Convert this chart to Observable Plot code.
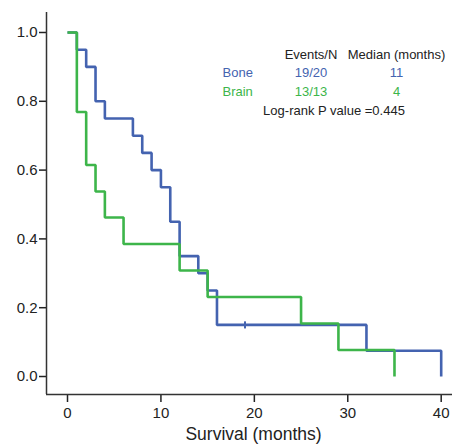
<!DOCTYPE html>
<html><head><meta charset="utf-8">
<script src="https://cdn.jsdelivr.net/npm/d3@7"></script>
<script src="https://cdn.jsdelivr.net/npm/@observablehq/plot@0.6"></script>
<style>html,body{margin:0;padding:0;background:#fff}</style>
</head><body><div id="chart"></div>
<script>
// Kaplan–Meier step data
const boneTime = [0, 1, 2, 3, 4, 7, 8, 9, 10, 11, 12, 14, 15, 16, 32, 40];
const boneSurv = [1, 0.95, 0.90, 0.80, 0.75, 0.70, 0.65, 0.60, 0.55, 0.45, 0.35, 0.30, 0.25, 0.15, 0.075, 0];
const boneCensorTime = [19];
const boneCensorSurv = [0.15];
const brainTime = [0, 1, 2, 3, 4, 6, 12, 15, 25, 29, 35];
const brainSurv = [1, 0.769, 0.615, 0.538, 0.462, 0.385, 0.308, 0.231, 0.154, 0.077, 0];

const xTicks = [0, 10, 20, 30, 40];
const yTicks = [0, 0.2, 0.4, 0.6, 0.8, 1.0];
const xLabel = "Survival (months)";

const groups = ["Bone", "Brain"];
const eventsN = ["19/20", "13/13"];
const medians = ["11", "4"];
const headers = ["Events/N", "Median (months)"];
const pText = "Log-rank P value =0.445";

const colors = {Bone: "#4463b0", Brain: "#3db54a"};
const font = "'Liberation Sans', Arial, Helvetica, sans-serif";

const toRows = (t, s, g) => t.map((x, i) => ({t: x, s: s[i], g}));
const bone = toRows(boneTime, boneSurv, "Bone");
const brain = toRows(brainTime, brainSurv, "Brain");
const censors = toRows(boneCensorTime, boneCensorSurv, "Bone");

const tickSymbol = {draw(ctx, size) { const h = Math.sqrt(size) / 2; ctx.moveTo(0, -h); ctx.lineTo(0, h); }};

const xDomain = [-2.248, 41.21];
const yDomain = [-0.0523, 1.0581];

// legend layout (offsets from frame top-left, vertical = text middle)
const colX = [264.5, 350];   // centers for Events/N and Median columns
const nameX = 176;           // left of group names
const headerY = 42.8;
const rowY = [60.5, 79.5];
const pY = 98.8, pX = 287.5;

const T = {frameAnchor: "top-left", text: d => d, fontSize: 13, lineAnchor: "middle"};
const legendMarks = [];
headers.forEach((h, i) => legendMarks.push(Plot.text([h], {...T, dx: colX[i], dy: headerY, fill: "#222", textAnchor: "middle"})));
groups.forEach((g, i) => {
  legendMarks.push(Plot.text([g], {...T, dx: nameX, dy: rowY[i], fill: colors[g], textAnchor: "start"}));
  legendMarks.push(Plot.text([eventsN[i]], {...T, dx: colX[0], dy: rowY[i], fill: colors[g], textAnchor: "middle"}));
  legendMarks.push(Plot.text([medians[i]], {...T, dx: colX[1], dy: rowY[i], fill: colors[g], textAnchor: "middle"}));
});
legendMarks.push(Plot.text([pText], {...T, dx: pX, dy: pY, fill: "#222", textAnchor: "middle"}));

const chart = Plot.plot({
  width: 452,
  height: 444,
  marginLeft: 46,
  marginRight: 0,
  marginTop: 12,
  marginBottom: 50,
  style: {fontFamily: font, fontSize: "15px", background: "#fff", color: "#222"},
  x: {domain: xDomain},
  y: {domain: yDomain},
  marks: [
    Plot.axisX({ticks: xTicks, tickSize: 8, tickPadding: 5, label: null, tickFormat: d => String(d), fontSize: 15, strokeWidth: 1.5}),
    Plot.axisY({ticks: yTicks, tickSize: 7, tickPadding: 2, label: null, tickFormat: d3.format(".1f"), fontSize: 15, strokeWidth: 1.5}),
    Plot.ruleY([yDomain[0]], {stroke: "#333", strokeWidth: 1.5}),
    Plot.ruleX([xDomain[0]], {stroke: "#333", strokeWidth: 1.5}),
    Plot.line(bone, {x: "t", y: "s", curve: "step-after", stroke: colors.Bone, strokeWidth: 2.6, strokeLinejoin: "miter", strokeLinecap: "butt"}),
    Plot.dot(censors, {x: "t", y: "s", symbol: tickSymbol, r: 4, stroke: colors.Bone, strokeWidth: 2, fill: "none"}),
    Plot.line(brain, {x: "t", y: "s", curve: "step-after", stroke: colors.Brain, strokeWidth: 2.6, strokeLinejoin: "miter", strokeLinecap: "butt"}),
    Plot.text([xLabel], {frameAnchor: "bottom", lineAnchor: "middle", dx: 4, dy: 39.5, text: d => d, fontSize: 17.5, fill: "#222"}),
    ...legendMarks
  ]
});
document.getElementById("chart").appendChild(chart);
</script>
</body></html>
